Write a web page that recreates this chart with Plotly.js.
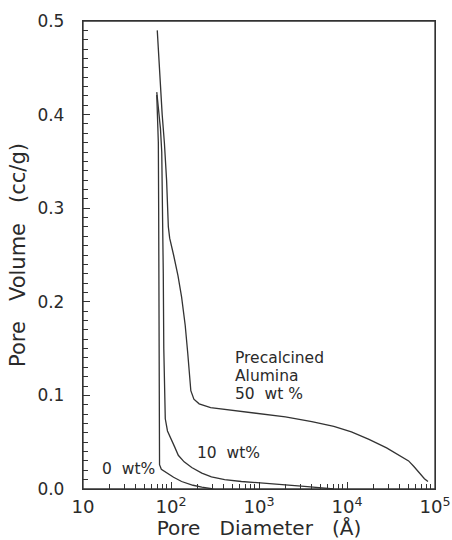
<!DOCTYPE html>
<html>
<head>
<meta charset="utf-8">
<script src="https://cdn.plot.ly/plotly-3.0.1.min.js"></script>
<style>html,body{margin:0;padding:0;background:#fff;}#chart{width:452px;height:540px;}.modebar-container,.modebar{display:none !important;}</style>
</head>
<body>
<div id="chart"></div>
<script>
// Pore diameter (Å) and pore volume (cc/g)
const dia50 = [69.8, 72.4, 75.0, 79.4, 84.1, 89.1, 93.3, 96.6, 107, 120, 132, 145, 155, 162, 168, 182, 209, 282, 501, 1000, 1995, 3981, 7079, 11220, 17780, 28180, 39810, 50120, 57540, 67610, 75860, 83180];
const vol50 = [0.490, 0.465, 0.430, 0.400, 0.370, 0.330, 0.280, 0.268, 0.250, 0.228, 0.205, 0.175, 0.145, 0.118, 0.105, 0.096, 0.091, 0.087, 0.084, 0.081, 0.077, 0.072, 0.067, 0.061, 0.053, 0.044, 0.036, 0.030, 0.024, 0.016, 0.011, 0.008];

const dia10 = [68.9, 71.6, 75.9, 78.5, 80.4, 81.7, 82.8, 84.1, 86.1, 91.2, 97.7, 110, 121, 141, 172, 224, 288, 407, 631, 1122, 1995, 3548, 5623, 7079];
const vol10 = [0.424, 0.410, 0.385, 0.360, 0.300, 0.230, 0.150, 0.100, 0.075, 0.062, 0.055, 0.045, 0.036, 0.029, 0.023, 0.017, 0.013, 0.010, 0.008, 0.0065, 0.0045, 0.0025, 0.001, 0.0];

const dia0 = [68.9, 70.5, 71.8, 72.4, 72.8, 72.9, 73.3, 74.1, 77.6, 89.1, 107, 132, 178, 224, 302];
const vol0 = [0.421, 0.400, 0.370, 0.300, 0.200, 0.100, 0.040, 0.026, 0.021, 0.017, 0.0125, 0.008, 0.004, 0.002, 0.0];

const labelPrecalcined = ["Precalcined", "Alumina", "50  wt %"];
const label10 = "10  wt%";
const label0 = "0  wt%";

const FONT = "DejaVu Sans, Arial, sans-serif";
const INK = "#2a2a2a";
const AX = "#333";
const lineStyle = {color: "#333", width: 1.3};

const traces = [
  {x: dia50, y: vol50, mode: "lines", line: lineStyle, name: "50 wt%"},
  {x: dia10, y: vol10, mode: "lines", line: lineStyle, name: "10 wt%"},
  {x: dia0, y: vol0, mode: "lines", line: lineStyle, name: "0 wt%"}
];

const annFont = {size: 15.5, family: FONT, color: INK};
const annotations = [
  {x: Math.log10(507), y: 0.1395, text: labelPrecalcined[0]},
  {x: Math.log10(507), y: 0.1205, text: labelPrecalcined[1]},
  {x: Math.log10(507), y: 0.1015, text: labelPrecalcined[2]},
  {x: Math.log10(187), y: 0.0384, text: label10},
  {x: Math.log10(15.6), y: 0.0214, text: label0}
].map(a => Object.assign({xref: "x", yref: "y", showarrow: false, xanchor: "left", yanchor: "middle", align: "left", font: annFont}, a));

const layout = {
  width: 452, height: 540,
  margin: {l: 83, r: 17, t: 21, b: 51},
  showlegend: false,
  font: {family: FONT, color: INK, size: 16},
  xaxis: {
    type: "log", range: [1, 5],
    tickmode: "linear", tick0: 0, dtick: 1, exponentformat: "power",
    ticks: "inside", ticklen: 7, tickwidth: 1.1, tickcolor: AX,
    minor: {ticks: "inside", ticklen: 5, tickwidth: 1, tickcolor: AX, dtick: "D1", showgrid: false},
    showline: true, linecolor: AX, linewidth: 1.3, mirror: true,
    showgrid: false, zeroline: false,
    ticklabelstandoff: 2,
    tickfont: {size: 14.5, family: FONT, color: INK},
    title: {text: "Pore   Diameter   (Å)", font: {size: 20, family: FONT, color: INK}, standoff: 3}
  },
  yaxis: {
    range: [0, 0.5],
    tickmode: "linear", tick0: 0, dtick: 0.1, tickformat: ".1f",
    ticks: "inside", ticklen: 7, tickwidth: 1.1, tickcolor: AX,
    minor: {ticks: "inside", ticklen: 5, tickwidth: 1, tickcolor: AX, dtick: 0.01, showgrid: false},
    showline: true, linecolor: AX, linewidth: 1.3, mirror: true,
    showgrid: false, zeroline: false,
    ticklabelstandoff: 14,
    tickfont: {size: 17, family: FONT, color: INK},
    title: {text: "Pore   Volume   (cc/g)", font: {size: 21, family: FONT, color: INK}, standoff: 6}
  },
  shapes: [{type: "rect", xref: "paper", yref: "paper", x0: 0, x1: 1, y0: 0, y1: 1, line: {color: AX, width: 1.3}}],
  annotations: annotations
};

Plotly.newPlot("chart", traces, layout);
</script>
</body>
</html>
